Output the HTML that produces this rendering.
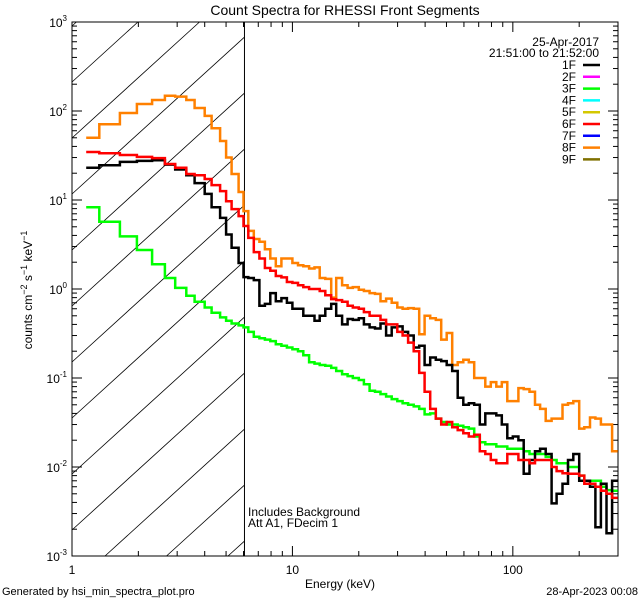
<!DOCTYPE html>
<html><head><meta charset="utf-8"><style>
html,body{margin:0;padding:0;background:#fff;width:640px;height:600px;overflow:hidden;}
svg{display:block;font-family:"Liberation Sans","DejaVu Sans",sans-serif;}
</style></head><body>
<svg id="chart" width="640" height="600" viewBox="0 0 640 600">
<text x="345" y="15" font-size="14" text-anchor="middle">Count Spectra for RHESSI Front Segments</text>
<g id="hatch"></g>
<g id="axes"></g>
<g id="series"></g>
<g id="legend"></g>
<text x="32" y="290" font-size="12" text-anchor="middle" transform="rotate(-90 32 290)">counts cm<tspan dy="-5" font-size="9">−2</tspan><tspan dy="5"> s</tspan><tspan dy="-5" font-size="9">−1</tspan><tspan dy="5"> keV</tspan><tspan dy="-5" font-size="9">−1</tspan></text>
<text x="340" y="588" font-size="12" text-anchor="middle">Energy (keV)</text>
<text x="248" y="516" font-size="12">Includes Background</text>
<text x="248" y="527" font-size="12">Att A1, FDecim 1</text>
<text x="2" y="595" font-size="11">Generated by hsi_min_spectra_plot.pro</text>
<text x="638" y="595" font-size="11" text-anchor="end">28-Apr-2023 00:08</text>
</svg>
<script>
const edges=[1.16,1.33,1.65,1.97,2.31,2.64,2.94,3.3,3.6,4.0,4.3,4.7,5.0,5.3,5.7,6.0,
6.31,6.68,7.08,7.50,7.94,8.41,8.91,9.44,10.0,10.6,11.2,11.9,12.6,13.3,14.1,15.0,15.8,16.8,17.8,18.8,20.0,21.1,22.4,23.7,25.1,26.6,28.2,29.9,31.6,33.5,35.5,37.6,39.8,42.2,44.7,47.3,50.1,53.1,56.2,59.6,63.1,66.8,70.8,75.0,79.4,84.1,89.1,94.4,100,106,112,119,126,133,141,150,158,168,178,188,200,211,224,237,251,266,282,299];
const seg1F=[23,24.6,26.8,27.5,28,25,22,19,15.5,11.7,8.3,6.3,4.1,2.9,1.96,1.36,
1.33,1.26,0.65,0.68,0.9,0.73,0.79,0.7,0.6,0.6,0.5,0.5,0.44,0.5,0.6,0.68,0.5,0.4,0.46,0.45,0.47,0.4,0.37,0.36,0.41,0.3,0.37,0.38,0.33,0.3,0.22,0.23,0.14,0.17,0.16,0.155,0.14,0.12,0.06,0.05,0.052,0.05,0.03,0.04,0.04,0.038,0.03,0.021,0.022,0.02,0.0084,0.012,0.015,0.016,0.014,0.0039,0.005,0.0065,0.012,0.014,0.007,0.007,0.006,0.0021,0.0065,0.0018,0.007];
const seg3F=[8.3,5.7,3.9,2.74,1.9,1.33,1.03,0.84,0.72,0.62,0.54,0.48,0.44,0.41,0.39,0.37,
0.33,0.29,0.28,0.27,0.26,0.24,0.23,0.22,0.21,0.2,0.18,0.15,0.145,0.14,0.137,0.13,0.12,0.11,0.105,0.1,0.095,0.085,0.072,0.07,0.066,0.062,0.058,0.055,0.052,0.05,0.048,0.045,0.039,0.04,0.035,0.032,0.03,0.03,0.029,0.028,0.027,0.022,0.019,0.018,0.018,0.017,0.017,0.016,0.016,0.016,0.015,0.014,0.014,0.014,0.013,0.012,0.011,0.011,0.01,0.01,0.008,0.007,0.007,0.007,0.006,0.0055,0.0054];
const seg6F=[34.6,33.6,32,30.5,29.6,25.4,23,19.6,19,17.2,14.7,12.6,9.7,7.9,6.6,5.1,
3.75,2.6,2.2,1.72,1.6,1.4,1.35,1.2,1.17,1.1,1.05,1.0,1.0,0.95,0.85,0.77,0.75,0.72,0.65,0.62,0.6,0.55,0.5,0.5,0.45,0.4,0.4,0.33,0.3,0.25,0.2,0.114,0.07,0.045,0.035,0.03,0.032,0.028,0.026,0.024,0.022,0.023,0.015,0.014,0.012,0.011,0.011,0.014,0.014,0.012,0.012,0.011,0.012,0.012,0.012,0.01,0.009,0.0085,0.0084,0.0084,0.008,0.0065,0.0065,0.006,0.0054,0.005,0.0045];
const seg8F=[50,71,95,120,133,148,145,133,108,88,64,46,30,19.6,12.3,7.5,
4.5,3.65,3.4,2.8,2.2,1.8,2.2,2.2,1.96,1.85,1.8,1.7,1.75,1.33,1.3,0.8,1.33,1.1,1.03,1.05,0.98,0.95,0.9,0.88,0.73,0.78,0.7,0.62,0.6,0.61,0.6,0.31,0.5,0.47,0.45,0.27,0.32,0.14,0.15,0.16,0.15,0.1,0.1,0.08,0.09,0.08,0.09,0.055,0.055,0.077,0.075,0.07,0.05,0.045,0.033,0.035,0.035,0.05,0.052,0.055,0.027,0.028,0.036,0.035,0.03,0.03,0.015];
const yTickLabels=["3","2","1","0","-1","-2","-3"];
const xTickValues=[1,10,100];
const legendLabels=["1F","2F","3F","4F","5F","6F","7F","8F","9F"];
const legendColors=["#000","#ff00ff","#00ff00","#00ffff","#d4c800","#ff0000","#0000ff","#ff8000","#7f7000"];

const NS="http://www.w3.org/2000/svg";
const L=72,R=618,T=22,B=556;
const xMinLog=0, xMaxLog=Math.log10(300);
function xs(e){return L+(Math.log10(e)-xMinLog)/(xMaxLog-xMinLog)*(R-L);}
function ys(v){return T+(3-Math.log10(v))/6*(B-T);}
function mk(tag,attrs,parent){const el=document.createElementNS(NS,tag);for(const k in attrs)el.setAttribute(k,attrs[k]);parent.appendChild(el);return el;}

const hatch=document.getElementById('hatch');
const XV=xs(6.06), S=0.91;
for(let n=-8;n<12;n++){
  const y0=82+56*n;
  // line y = y0 - S*(x-L); clip to [L,XV]x[T,B]
  let xa=L, xb=XV;
  const xAtB=L+(y0-B)/S, xAtT=L+(y0-T)/S;
  xa=Math.max(xa,xAtB); xb=Math.min(xb,xAtT);
  if(xb<=xa) continue;
  const ln=mk('line',{x1:xa.toFixed(1),y1:(y0-S*(xa-L)).toFixed(1),x2:xb.toFixed(1),y2:(y0-S*(xb-L)).toFixed(1),stroke:'#000','stroke-width':0.8},hatch);
  
  
}
const vl=mk('line',{x1:XV,y1:T,x2:XV,y2:B,stroke:'#000','stroke-width':1},hatch);



const ax=document.getElementById('axes');
const frame=mk('rect',{x:L,y:T,width:R-L,height:B-T,fill:'none',stroke:'#000','stroke-width':1},ax);


for(let d=-3;d<=3;d++){
  const y=ys(Math.pow(10,d));
  for(const [x,s] of [[L,1],[R,-1]]){
    mk('line',{x1:x,y1:y,x2:x+s*10,y2:y,stroke:'#000'},ax);
    if(d<3)for(let m=2;m<=9;m++){const ym=ys(m*Math.pow(10,d));mk('line',{x1:x,y1:ym,x2:x+s*5,y2:ym,stroke:'#000'},ax);}
  }
}
yTickLabels.forEach((p,i)=>{
  const y=ys(Math.pow(10,+p));
  const t=mk('text',{x:L-5,y:y+5,'font-size':12,'text-anchor':'end'},ax);
  t.innerHTML='10<tspan dy="-6" font-size="8">'+p+'</tspan>';
  
  
});
for(let d=0;d<=2;d++){
  for(let m=1;m<=9;m++){
    const v=m*Math.pow(10,d); if(v>300)break;
    const x=xs(v), len=m===1?10:5;
    mk('line',{x1:x,y1:B,x2:x,y2:B-len,stroke:'#000'},ax);
    mk('line',{x1:x,y1:T,x2:x,y2:T+len,stroke:'#000'},ax);
  }
}
xTickValues.forEach(v=>{
  const t=mk('text',{x:xs(v),y:574,'font-size':12,'text-anchor':'middle'},ax);
  t.textContent=String(v);
  
  
});

const sg=document.getElementById('series');
function stepPath(vals){
  let d='';
  vals.forEach((v,i)=>{const x0=xs(edges[i]),x1=xs(edges[i+1]),y=ys(v);d+=(i===0?'M':'L')+x0.toFixed(1)+','+y.toFixed(1)+'L'+x1.toFixed(1)+','+y.toFixed(1);});
  return d;
}
const series=[[seg3F,'#00ff00','series-3f'],[seg8F,'#ff8000','series-8f'],[seg1F,'#000000','series-1f'],[seg6F,'#ff0000','series-6f']];
series.forEach(([vals,col,name])=>{
  const p=mk('path',{d:stepPath(vals),fill:'none',stroke:col,'stroke-width':2.5,'stroke-linejoin':'miter'},sg);
  
  
});

const lg=document.getElementById('legend');
const t1=mk('text',{x:599,y:46,'font-size':12,'text-anchor':'end'},lg);
t1.textContent='25-Apr-2017';


const t2=mk('text',{x:599,y:57,'font-size':12,'text-anchor':'end'},lg);
t2.textContent='21:51:00 to 21:52:00';


legendLabels.forEach((lab,i)=>{
  const y=65+11.8*i;
  const g=mk('g',{},lg);
  
  
  const t=mk('text',{x:576,y:y+4,'font-size':12,'text-anchor':'end'},g);
  t.textContent=lab;
  mk('line',{x1:583,y1:y,x2:600,y2:y,stroke:legendColors[i],'stroke-width':2.5},g);
});
</script>
</body></html>
